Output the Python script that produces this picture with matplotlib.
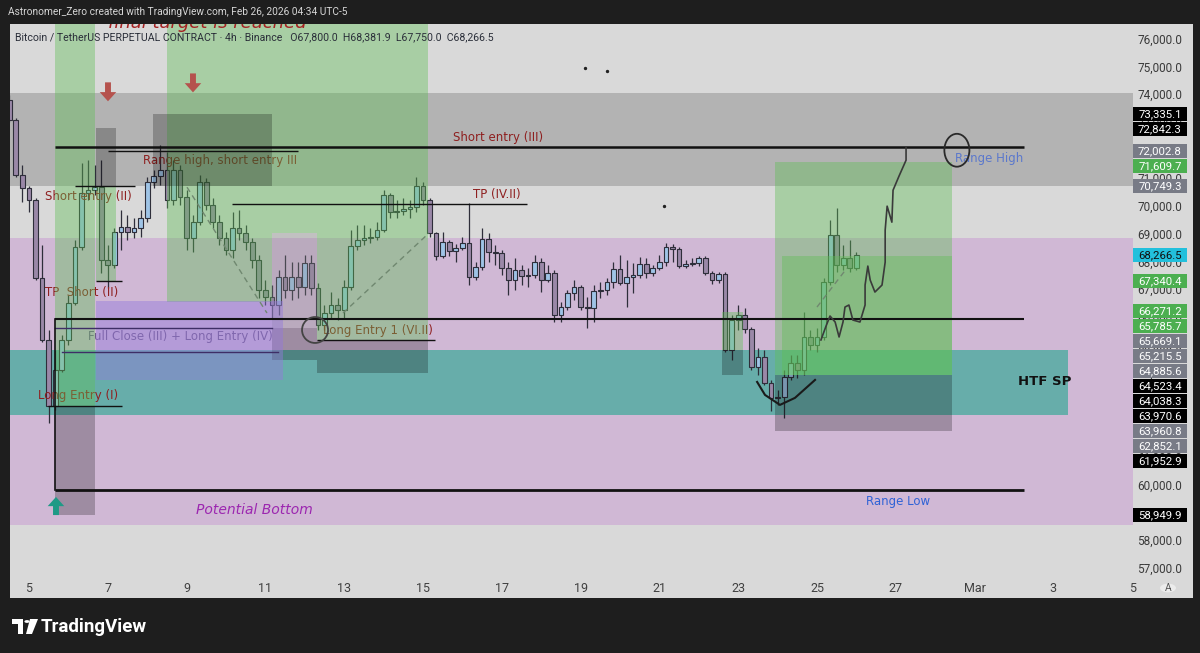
import matplotlib
matplotlib.use("Agg")
import matplotlib.pyplot as plt
from matplotlib.patches import Rectangle, Ellipse, Arc, Circle, Polygon

plt.rcParams['font.family'] = ['Roboto', 'DejaVu Sans']

W, H = 1200, 653

# ---- BTCUSDT.P 4h candles (open of each = previous close) ----
first_open = 73835
closes = [73118, 71147, 70681, 70251, 67456, 65234, 62868, 64158, 65234, 66559,
          68567, 70502, 70609, 70717, 68101, 67922, 69104, 69283, 69104, 69247,
          69606, 70896, 71111, 71326, 70251, 71326, 70359, 68889, 69463, 70896,
          70072, 69463, 68889, 68459, 69247, 69068, 68746, 68101, 67025, 66774,
          66488, 67491, 67025, 67491, 67133, 67993, 67097, 65771, 66201, 66488,
          66309, 67133, 68602, 68817, 68889, 68925, 69176, 70430, 69821, 69857,
          69928, 70000, 70753, 70251, 69068, 68244, 68746, 68423, 68531, 68710,
          67491, 67850, 68853, 68387, 68352, 67814, 67384, 67742, 67527, 67563,
          68029, 67384, 67635, 66129, 66416, 66918, 67133, 66416, 66380, 66989,
          67025, 67312, 67778, 67276, 67491, 67563, 67957, 67635, 67814, 68029,
          68567, 68495, 67886, 67957, 67993, 68172, 67635, 67384, 67599, 64875,
          65950, 66129, 65628, 64266, 64624, 63692, 63155, 63190, 63907, 64409,
          64158, 65341, 65054, 65341, 67312, 68997, 67922, 68172, 67800, 68266.5]
highs = [74014, 73190, 71505, 70753, 70323, 68638, 65592, 64875, 65413, 66846,
         68817, 71577, 71685, 71505, 71685, 68638, 69247, 69893, 69713, 69606,
         69893, 71075, 71326, 72222, 71971, 71685, 71505, 70609, 69713, 71147,
         71040, 70323, 69713, 69104, 69821, 69893, 69355, 68889, 68280, 67384,
         67205, 67742, 68280, 68029, 68029, 68280, 68280, 67276, 66488, 66953,
         66737, 67384, 69176, 69355, 69355, 69247, 69463, 70609, 70502, 70251,
         70323, 70251, 71075, 70896, 70323, 69104, 69104, 68817, 68674, 68925,
         70144, 68029, 69247, 69068, 68638, 68459, 68029, 68172, 67922, 67814,
         68280, 68172, 67922, 67742, 66595, 67025, 67384, 67205, 66774, 67205,
         67312, 67456, 68029, 68280, 68101, 67993, 68208, 68172, 67922, 68280,
         68710, 68674, 68567, 68101, 68172, 68244, 68244, 67706, 67671, 67671,
         66129, 66488, 66380, 65699, 64947, 64875, 63800, 63443, 64158, 64696,
         64696, 66237, 65592, 65663, 67456, 69534, 69964, 68638, 68817, 68381.9]
lows = [73047, 71075, 70179, 69821, 67384, 65161, 62259, 62725, 64087, 65054,
        66488, 68459, 70251, 70430, 67635, 67097, 67814, 68459, 68817, 68889,
        68925, 69463, 70681, 70789, 69964, 70072, 70072, 68459, 68387, 69355,
        69893, 69247, 68638, 68280, 68172, 68817, 68459, 67814, 66737, 66488,
        66022, 66129, 66737, 66667, 66737, 66846, 66846, 65592, 65592, 66022,
        65950, 66022, 67025, 68459, 68638, 68710, 68817, 69104, 69606, 69606,
        69713, 69606, 69821, 70072, 68925, 68101, 68172, 68244, 68029, 68459,
        67205, 67384, 67742, 68029, 67922, 67563, 66846, 67025, 67205, 67133,
        67456, 66953, 67312, 65879, 65879, 66309, 66667, 66309, 65663, 65879,
        66737, 66846, 67097, 67205, 66416, 66918, 67456, 67456, 67527, 67742,
        67886, 68029, 67814, 67814, 67886, 67886, 67563, 67240, 67276, 64803,
        64517, 65592, 65484, 64158, 63979, 63621, 62689, 62904, 62438, 63800,
        63871, 63979, 64875, 64803, 65234, 67205, 67671, 67742, 67671, 67750]
t0 = 4.5          # Feb 4, 12:00
step = 1 / 6      # 4h

# ---- horizontal zones (price bands) ----
grey_band = (70749.3, 74090)
purple_band = (58600, 68890)
htf_sp = (62545, 64885.6, 31.37)   # low, high, right end (day)

# ---- position tool boxes: (day0, day1, low, high) ----
TOP = 78000
profit_boxes = [(5.66, 6.675, 62852.1, TOP),
                (6.70, 7.21, 67340.4, 70749.3),
                (8.50, 11.17, 66600, TOP),
                (11.17, 15.13, 69068, TOP),
                (12.31, 15.13, 65215.5, 69068),
                (22.59, 23.12, 64885.6, 66240),
                (23.93, 28.43, 63970.6, 71609.7),
                (24.11, 28.43, 63970.6, 68240)]
stop_boxes = [(5.66, 6.675, 58949.9, 62852.1),
              (6.70, 7.21, 70749.3, 72842.3),
              (8.15, 11.17, 70749.3, 73335.1),
              (12.31, 15.13, 64038.3, 65215.5),
              (11.17, 12.31, 64523.4, 65669.1),
              (22.59, 23.12, 63970.6, 64885.6),
              (23.93, 28.43, 61952.9, 63970.6)]
neutral_boxes = [(11.17, 12.31, 65669.1, 69068)]
close_box = (6.70, 11.45, 63800, 66630)

# ---- level lines: (day0, day1, price, width) ----
levels = [(5.66, 30.25, 72150, 1.8),
          (7.00, 11.83, 72002.8, 1.0),
          (6.17, 7.69, 70749.3, 1.0),
          (6.70, 7.36, 67340.4, 1.0),
          (10.15, 17.64, 70108, 1.0),
          (5.66, 30.25, 65990, 1.5),
          (12.31, 15.30, 65215.5, 1.0),
          (5.48, 7.36, 62852.1, 1.0),
          (5.66, 30.25, 59857, 2.0)]
close_levels = [(5.66, 11.17, 65669.1), (5.84, 11.32, 64803)]

# ---- annotations ----
notes = [(7.89, 71685, 'Range high, short entry III', '#8e1f1f'),
         (5.41, 70395, 'Short entry (II)', '#8e1f1f'),
         (5.41, 66954, 'TP  Short (II)', '#8e1f1f'),
         (6.50, 65341, 'Full Close (III) + Long Entry (IV)', '#6f5a88'),
         (12.46, 65556, 'Long Entry 1 (VI.II)', '#8e1f1f'),
         (5.23, 63227, 'Long Entry (I)', '#8e1f1f'),
         (15.76, 72509, 'Short entry (III)', '#8e1f1f'),
         (16.27, 70466, 'TP (IV.II)', '#8e1f1f')]

path_x = [27.26, 27.26, 27.08, 26.93, 26.90, 26.78, 26.73, 26.73, 26.65, 26.47,
          26.35, 26.29, 26.22, 26.22, 26.09, 25.91, 25.81, 25.71, 25.66, 25.56,
          25.46, 25.33, 25.23, 25.10]
path_y = [72151, 71685, 71111, 70609, 69462, 70036, 69176, 68029, 67205, 66954,
          67384, 67886, 67205, 66488, 65878, 65950, 66488, 66416, 65878, 65341,
          65878, 66094, 65735, 65234]
smile_x = [23.48, 23.68, 24.06, 24.44, 24.95]
smile_y = [63728, 63262, 62904, 63155, 63800]
dashed = [((12.97, 15.15), (66201, 69068)),
          ((9.01, 11.04), (70717, 66201)),
          ((25.00, 25.76), (66416, 67814))]
dots_x = [19.11, 19.67, 21.12]
dots_y = [74995, 74887, 70040]

label_prices = [73335.1, 72842.3, 72002.8, 71609.7, 70749.3, 68266.5, 67340.4,
                66271.2, 65785.7, 65669.1, 65215.5, 64885.6, 64523.4, 64038.3,
                63970.6, 63960.8, 62852.1, 61952.9, 58949.9]
label_kinds = ['stop', 'stop', 'entry', 'target', 'entry', 'last', 'target',
               'target', 'target', 'entry', 'entry', 'entry', 'stop', 'stop',
               'stop', 'entry', 'entry', 'stop', 'stop']
x_ticks = [5, 7, 9, 11, 13, 15, 17, 19, 21, 23, 25, 27, 29, 31, 33]
x_labels = ['5', '7', '9', '11', '13', '15', '17', '19', '21', '23', '25', '27',
            'Mar', '3', '5']

GREEN = '#5fbf55'

fig = plt.figure(figsize=(W / 100, H / 100), dpi=100)
fig.patch.set_facecolor('#1e1e1e')
fig.add_artist(Rectangle((10 / W, 1 - 598 / H), 1183 / W, 574 / H,
                         transform=fig.transFigure, fc='#d9d9d9', ec='none',
                         zorder=-10))
ax = fig.add_axes([10 / W, 1 - 575 / H, 1123 / W, 551 / H])
ax.set_facecolor('none')
ax.set_xlim(4.518, 33.02)
ax.set_ylim(56799, 76574)
for s in ax.spines.values():
    s.set_visible(False)
ax.set_yticks([])
ax.set_xticks(x_ticks)
ax.set_xticklabels(x_labels)
ax.tick_params(axis='x', length=0, pad=5, labelsize=9, labelcolor='#404040')

# bands
ax.axhspan(*grey_band, color='#b3b3b3', lw=0, zorder=1)
ax.axhspan(*purple_band, color='#d0b8d5', lw=0, zorder=1)
ax.fill_between([4.0, htf_sp[2]], htf_sp[0], htf_sp[1], color='#67adaa', lw=0, zorder=1.1)

# candles
opens = [first_open] + closes[:-1]
xs = [t0 + i * step for i in range(len(closes))]
up = [c >= o for o, c in zip(opens, closes)]
ax.vlines(xs, lows, highs, color='#2e2e3a', lw=0.9, zorder=3)
ax.bar(xs, [max(abs(c - o), 45) for o, c in zip(opens, closes)],
       bottom=[min(o, c) for o, c in zip(opens, closes)], width=0.12,
       color=['#9fc4e6' if u else '#9a88a8' for u in up],
       edgecolor='#2e2e3a', linewidth=0.8, zorder=3.2)

# notes sit under the drawings, like on the chart
for x, y, s, c in notes:
    ax.text(x, y, s, color=c, fontsize=8.5, ha='left', va='center',
            family=['DejaVu Sans'], zorder=3.5)
ax.text(9.24, 59141, 'Potential Bottom', color='#9c27b0', fontsize=10,
        style='italic', family=['DejaVu Sans'], va='center', zorder=3.5)
ax.text(26.24, 59427, 'Range Low', color='#2f62d6', fontsize=8.5,
        family=['DejaVu Sans'], va='center', zorder=6)
ax.text(28.50, 71756, 'Range High', color='#5b78cc', fontsize=8.5,
        family=['DejaVu Sans'], va='center', zorder=3.5)
ax.text(30.10, 63728, 'HTF SP', color='#111111', fontsize=9.5, weight='bold',
        family=['DejaVu Sans'], va='center', zorder=6)

# position boxes
for x0, x1, y0, y1 in profit_boxes:
    ax.add_patch(Rectangle((x0, y0), x1 - x0, y1 - y0, fc=GREEN, alpha=0.4,
                           ec='none', zorder=4))
for x0, x1, y0, y1 in stop_boxes:
    ax.add_patch(Rectangle((x0, y0), x1 - x0, y1 - y0, fc='black', alpha=0.24,
                           ec='none', zorder=4))
for x0, x1, y0, y1 in neutral_boxes:
    ax.add_patch(Rectangle((x0, y0), x1 - x0, y1 - y0, fc='#8a8a8a', alpha=0.3,
                           ec='none', zorder=4))
x0, x1, y0, y1 = close_box
ax.add_patch(Rectangle((x0, y0), x1 - x0, y1 - y0, fc='#9478dc', alpha=0.45,
                       ec='none', zorder=4))

# lines
for x0, x1, y, lw in levels:
    ax.plot([x0, x1], [y, y], color='#111111', lw=lw, zorder=5,
            solid_capstyle='butt')
for x0, x1, y in close_levels:
    ax.plot([x0, x1], [y, y], color='#3e2e66', lw=1.0, zorder=5)
ax.plot([5.66, 5.66], [59857, 65990], color='#111111', lw=1.2, zorder=5)
for (dx, dy) in dashed:
    ax.plot(dx, dy, color='#708870', lw=1.0, ls=(0, (4, 3)), zorder=5)

# freehand drawings
ax.plot(path_x, path_y, color='#3a3a3a', lw=1.2, zorder=5)
ax.plot(smile_x, smile_y, color='#1a1a1a', lw=1.5, zorder=5)
ax.add_patch(Ellipse((28.55, 72043), 0.635, 1180, fill=False, ec='#2a2a2a',
                     lw=1.3, zorder=5))
ax.add_patch(Arc((12.26, 65592), 0.66, 930, theta1=70, theta2=290,
                 ec='#444444', lw=1.3, zorder=5))
ax.scatter(dots_x, dots_y, s=2, color='#222222', zorder=5)

# arrows
for ax_x, y_from, y_to in [(7.005, 74480, 73800), (9.162, 74800, 74120)]:
    ax.arrow(ax_x, y_from, 0, y_to - y_from, width=0.15, head_width=0.42,
             head_length=330, length_includes_head=True, fc='#b5524d',
             ec='none', zorder=6)
ax.arrow(5.685, 58950, 0, 650, width=0.15, head_width=0.42, head_length=330,
         length_includes_head=True, fc='#1e9a86', ec='none', zorder=6)

# price scale
yt = ax.get_yaxis_transform()
for p in range(57000, 76001, 1000):
    ax.text(1.0436, p, f'{p:,.1f}', transform=yt, ha='right', va='center',
            fontsize=8.5, color='#3a3a3a', clip_on=False, zorder=6)

kind_style = {'stop': ('#000000', 'white'), 'entry': ('#787b86', 'white'),
              'target': ('#4caf50', 'white'), 'last': ('#22c0dc', '#111111')}
inv = ax.transData.inverted()
prev = None
for price, kind in zip(label_prices, label_kinds):
    yd = ax.transData.transform((0, price))[1]
    if prev is not None and prev - yd < 15:
        yd = prev - 15
    prev = yd
    yc = inv.transform((0, yd))[1]
    half = inv.transform((0, yd + 7))[1] - yc
    bg, fgc = kind_style[kind]
    ax.add_patch(Rectangle((1.0, yc - half), 0.0481, 2 * half, transform=yt,
                           fc=bg, ec='none', clip_on=False, zorder=7))
    ax.text(1.024, yc, f'{price:,.1f}', transform=yt, ha='center', va='center',
            fontsize=8.2, color=fgc, clip_on=False, zorder=8)

# note at the very top of the chart, half hidden by the header bar
fig.text(108 / W, 1 - 28 / H, 'final target is reached', color='#a52222',
         fontsize=13, style='italic', family=['DejaVu Sans'], va='baseline',
         zorder=5)
fig.add_artist(Rectangle((0, 1 - 24 / H), 1, 24 / H, transform=fig.transFigure,
                         fc='#1e1e1e', ec='none', zorder=10))
fig.text(8 / W, 1 - 12 / H, 'Astronomer_Zero created with TradingView.com, Feb 26, 2026 04:34 UTC-5',
         color='#d6d6d6', fontsize=7.3, va='center', zorder=11)
fig.text(15 / W, 1 - 37 / H,
         'Bitcoin / TetherUS PERPETUAL CONTRACT · 4h · Binance   '
         'O67,800.0  H68,381.9  L67,750.0  C68,266.5',
         color='#2a2e39', fontsize=7.6, va='center', zorder=20)

# auto-scale button
fig.add_artist(Circle((1168 / W, 1 - 588 / H), 8 / W, transform=fig.transFigure,
                      fc='#ececec', ec='none'))
fig.text(1168 / W, 1 - 588 / H, 'A', color='#555555', fontsize=7.5,
         ha='center', va='center')

# TradingView logo
def fpt(px, py):
    return (px / W, 1 - py / H)

fig.add_artist(Polygon([fpt(12, 619), fpt(23, 619), fpt(23, 634), fpt(18, 634),
                        fpt(18, 624), fpt(12, 624)], closed=True,
                       transform=fig.transFigure, fc='white', ec='none'))
fig.add_artist(Circle(fpt(27, 621.5), 2.6 / W, transform=fig.transFigure,
                      fc='white', ec='none'))
fig.add_artist(Polygon([fpt(30, 619), fpt(38, 619), fpt(32, 634), fpt(26, 634)],
                       closed=True, transform=fig.transFigure, fc='white',
                       ec='none'))
fig.text(41 / W, 1 - 627 / H, 'TradingView', color='white', fontsize=13.5,
         weight='bold', va='center')

fig.savefig('out.png', dpi=100, facecolor=fig.get_facecolor())
